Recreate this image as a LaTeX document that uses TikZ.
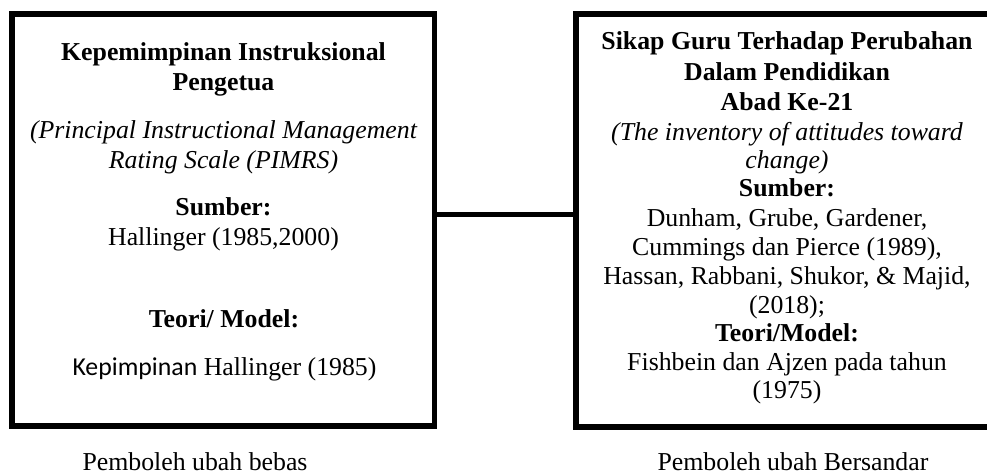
\documentclass[tikz,border=0pt]{standalone}
\usepackage{fontspec}
\setmainfont{Liberation Serif}
\newfontfamily\calibri{Carlito}
\begin{document}
\begin{tikzpicture}[x=1pt,y=-1pt,
  box/.style={draw=black, line width=5.6pt, rectangle, inner sep=0pt, minimum width=422.5pt},
  txt/.style={anchor=base, inner sep=0pt, font=\fontsize{25.8}{30}\selectfont},
  btxt/.style={txt, font=\fontsize{25.8}{30}\selectfont\bfseries},
  itxt/.style={txt, font=\fontsize{25.8}{30}\selectfont\itshape},
  conn/.style={draw=black, line width=5.6pt}]
\useasboundingbox (0,0) rectangle (987,475);
% boxes
\node[box, minimum height=412pt] (L) at (223.25,220) {};
\node[box, minimum height=413pt] (R) at (787,220.5) {};
\coordinate (cy) at (500,214.5);
\draw[conn] (L.east |- cy) -- (R.west |- cy);
% left box text
\node[btxt] (l1) at (223.5,60) {Kepemimpinan Instruksional};
\node[btxt] (l2) at (223.5,90) {Pengetua};
\node[itxt] (l3) at (223.5,138) {(Principal Instructional Management};
\node[itxt] (l4) at (223.5,168) {Rating Scale (PIMRS)};
\node[btxt] (l5) at (223.5,215) {Sumber:};
\node[txt] (l6) at (223.5,245) {Hallinger (1985,2000)};
\node[btxt] (l7) at (224,327) {Teori/ Model:};
\node[txt] (l8) at (224.5,375) {{\calibri Kepimpinan} Hallinger (1985)};
% right box text
\node[btxt] (r1) at (787,49) {Sikap Guru Terhadap Perubahan};
\node[btxt] (r2) at (787,80) {Dalam Pendidikan};
\node[btxt] (r3) at (787,110) {Abad Ke-21};
\node[itxt] (r4) at (787,140) {(The inventory of attitudes toward};
\node[itxt] (r5) at (787,168) {change)};
\node[btxt] (r6) at (787,196) {Sumber:};
\node[txt] (r7) at (787,226) {Dunham, Grube, Gardener,};
\node[txt] (r8) at (787,255) {Cummings dan Pierce (1989),};
\node[txt] (r9) at (787,284) {Hassan, Rabbani, Shukor, \& Majid,};
\node[txt] (r10) at (787,313) {(2018);};
\node[btxt] (r11) at (787,341) {Teori/Model:};
\node[txt] (r12) at (787,370) {Fishbein dan Ajzen pada tahun};
\node[txt] (r13) at (787,398) {(1975)};
% labels
\node[txt] (lb1) at (195,470) {Pemboleh ubah bebas};
\node[txt] (lb2) at (793,470) {Pemboleh ubah Bersandar};
\end{tikzpicture}
\end{document}
